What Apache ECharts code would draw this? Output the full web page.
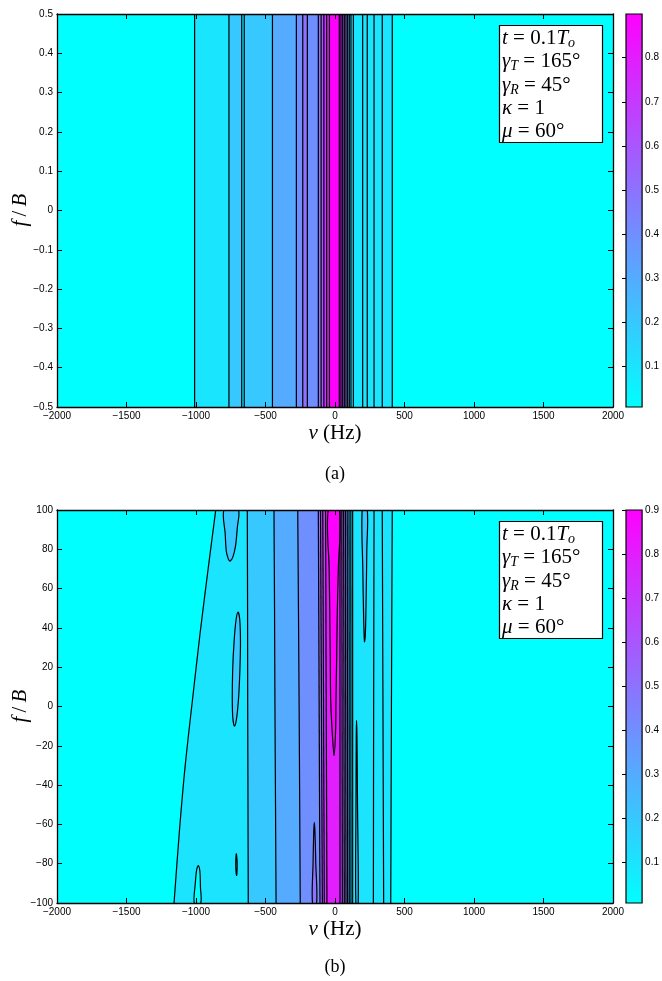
<!DOCTYPE html>
<html><head><meta charset="utf-8">
<script src="https://cdn.jsdelivr.net/npm/echarts@6/dist/echarts.min.js"></script>
<style>html,body{margin:0;padding:0;background:#fff}#c{width:662px;height:981px}</style>
</head><body><div id="c"></div>
<script>
// ---------- data ----------
const xTicks = [-2000, -1500, -1000, -500, 0, 500, 1000, 1500, 2000];
const yTicksA = [-0.5, -0.4, -0.3, -0.2, -0.1, 0, 0.1, 0.2, 0.3, 0.4, 0.5];
const yTicksB = [-100, -80, -60, -40, -20, 0, 20, 40, 60, 80, 100];
const cbTicksA = [0.1, 0.2, 0.3, 0.4, 0.5, 0.6, 0.7, 0.8];
const cbTicksB = [0.1, 0.2, 0.3, 0.4, 0.5, 0.6, 0.7, 0.8, 0.9];
const cbRangeA = [0.008, 0.899];
const cbRangeB = [0.007, 0.9];
const levelStep = 0.1;

// panel (a): vertical contour edges (Hz) and band level index between them
const aEdges = [-1010, -763, -671, -653, -450, -278, -232, -199, -120, -100, -80, -60, -40,
  31, 43, 55, 67, 79, 91, 103, 115, 132, 199, 232, 281, 340, 412];
const aLevels = [0, 1, 2, 1, 2, 3, 4, 5, 4, 5, 6, 7, 8, 9, 8, 7, 6, 5, 4, 3, 2, 1, 1, 1, 1, 1, 1, 0];

// panel (b): contour boundaries, top to bottom, as [Hz, f/B]
const bBoundaries = [
  [[-858, 100], [-911, 71], [-971, 37], [-1026, 3], [-1079, -31], [-1120, -64], [-1158, -100]],
  [[-631, 100], [-629, 50], [-628, 0], [-626, -50], [-624, -100]],
  [[-439, 100], [-435, 50], [-432, 0], [-428, -50], [-424, -100]],
  [[-268, 100], [-263, 50], [-258, 0], [-254, -50], [-250, -100]],
  [[-120, 100], [-108, -100]],
  [[-104, 100], [-91, -100]],
  [[-88, 100], [-77, -100]],
  [[-68, 100], [-58, -100]],
  [[36, 100], [36, -100]],
  [[49, 100], [53, -100]],
  [[62, 100], [67, -100]],
  [[75, 100], [79, -100]],
  [[88, 100], [91, -100]],
  [[101, 100], [103, -100]],
  [[114, 100], [115, -100]],
  [[127, 100], [127, -100]],
  [[281, 100], [278, 0], [276, -100]],
  [[340, 100], [345, 0], [350, -100]],
  [[412, 100], [406, 0], [401, -100]]
];
const bLevels = [0, 1, 2, 3, 4, 5, 6, 7, 8, 7, 6, 5, 4, 3, 2, 1, 1, 1, 1, 0];

// panel (b): closed islands / tongues as outlines [Hz, f/B]
const bIslands = [
  [[-48, 100], [-42, 70], [-38, 50], [-34, 25], [-31, 3], [-20, -13], [-7, -25], [4, -13], [7, 3], [12, 25], [17, 50], [24, 70], [31, 100]],
  [[-798, 100], [-790, 88], [-782, 79], [-767, 75], [-755, 74], [-735, 76], [-715, 82], [-703, 91], [-696, 100]],
  [[-697, 48], [-685, 44], [-680, 33], [-684, 19], [-694, 4], [-708, -6], [-723, -10], [-735, -6], [-739, 4], [-736, 19], [-726, 33], [-712, 44]],
  [[-710, -75], [-705, -78], [-704, -82], [-708, -86], [-713, -83], [-714, -79]],
  [[-1012, -100], [-1005, -90], [-995, -83], [-983, -81], [-972, -84], [-968, -92], [-966, -100]],
  [[-162, -100], [-158, -80], [-153, -64], [-149, -59], [-144, -64], [-138, -80], [-132, -100]],
  [[196, 100], [200, 70], [206, 45], [212, 33], [218, 36], [224, 55], [229, 80], [232, 100]],
  [[150, -100], [151, -50], [153, -15], [155, -7], [158, -15], [162, -50], [167, -100]]
];
const bIslandLevels = [9, 2, 2, 2, 0, 5, 2, 2];

// ---------- helpers ----------
function coolColor(level, range) {
  const v = level === 0 ? range[0] : level * levelStep;
  let t = (v - range[0]) / (range[1] - range[0]);
  t = Math.max(0, Math.min(1, t));
  return 'rgb(' + Math.round(255 * t) + ',' + Math.round(255 * (1 - t)) + ',255)';
}
const minus = '\u2212';
function fmtInt(v) { return v < 0 ? minus + Math.abs(v) : String(v); }
function fmt1(v) { if (Math.abs(v) < 1e-9) return '0'; return (v < 0 ? minus : '') + Math.abs(v).toFixed(1); }

const sans = "'Liberation Sans', Arial, Helvetica, sans-serif";
const serif = "'Liberation Serif', 'DejaVu Serif', serif";
const LW = 1.2;

const X0 = 57, XW = 556;
const panels = [
  { top: 14, yMin: -0.5, yMax: 0.5, yInt: 0.1, yFmt: fmt1, cbRange: cbRangeA, cbTicks: cbTicksA },
  { top: 510, yMin: -100, yMax: 100, yInt: 20, yFmt: fmtInt, cbRange: cbRangeB, cbTicks: cbTicksB }
];
const PH = 393;

const grid = [], xAxis = [], yAxis = [], series = [];
panels.forEach((p, k) => {
  grid.push({ left: X0, top: p.top, width: XW, height: PH });
  grid.push({ left: 626, top: p.top, width: 18, height: PH });
  const gi = 2 * k, ci = 2 * k + 1;
  const axBase = { type: 'value', z: 10, splitLine: { show: false },
    axisLine: { show: true, onZero: false, lineStyle: { color: '#000', width: 1.3 } },
    axisTick: { show: true, inside: true, length: 5, lineStyle: { color: '#000', width: 1 } } };
  xAxis.push(Object.assign({}, axBase, { gridIndex: gi, position: 'bottom', min: -2000, max: 2000, interval: 500,
    axisLabel: { show: true, color: '#000', fontSize: 10, fontFamily: sans, margin: 4, formatter: fmtInt, showMinLabel: true, showMaxLabel: true } }));
  xAxis.push(Object.assign({}, axBase, { gridIndex: gi, position: 'top', min: -2000, max: 2000, interval: 500, axisLabel: { show: false } }));
  xAxis.push({ type: 'value', gridIndex: ci, min: 0, max: 1, show: false });
  yAxis.push(Object.assign({}, axBase, { gridIndex: gi, position: 'left', min: p.yMin, max: p.yMax, interval: p.yInt,
    axisLabel: { show: true, color: '#000', fontSize: 10, fontFamily: sans, margin: 4, formatter: p.yFmt, showMinLabel: true, showMaxLabel: true } }));
  yAxis.push(Object.assign({}, axBase, { gridIndex: gi, position: 'right', min: p.yMin, max: p.yMax, interval: p.yInt, axisLabel: { show: false } }));
  yAxis.push({ type: 'value', gridIndex: ci, position: 'right', min: p.cbRange[0], max: p.cbRange[1], z: 10,
    splitLine: { show: false },
    axisLine: { show: false },
    axisTick: { show: true, inside: true, length: 4, customValues: p.cbTicks, lineStyle: { color: '#000' } },
    axisLabel: { show: true, color: '#000', fontSize: 10, fontFamily: sans, margin: 3, customValues: p.cbTicks, formatter: v => v.toFixed(1) } });
  const xi = 3 * k, yi = 3 * k, cxi = 3 * k + 2, cyi = 3 * k + 2;
  // colorbar
  series.push({ type: 'custom', xAxisIndex: cxi, yAxisIndex: cyi, data: [[0]], silent: true,
    renderItem: (params, api) => {
      const a = api.coord([0, p.cbRange[1]]), b = api.coord([1, p.cbRange[0]]);
      return { type: 'rect', shape: { x: a[0], y: a[1], width: b[0] - a[0], height: b[1] - a[1] },
        style: { fill: { type: 'linear', x: 0, y: 0, x2: 0, y2: 1, colorStops: [{ offset: 0, color: '#ff00ff' }, { offset: 1, color: '#00ffff' }] },
          stroke: '#000', lineWidth: 1.2 } };
    } });
  if (k === 0) {
    const bands = [];
    const ed = [-2000].concat(aEdges, [2000]);
    for (let i = 0; i < aLevels.length; i++) bands.push([ed[i], ed[i + 1], aLevels[i]]);
    series.push({ type: 'custom', xAxisIndex: xi, yAxisIndex: yi, data: bands, clip: true, silent: true,
      renderItem: (params, api) => {
        const a = api.coord([api.value(0), p.yMax]), b = api.coord([api.value(1), p.yMin]);
        return { type: 'rect', shape: { x: a[0], y: a[1], width: b[0] - a[0] + 0.6, height: b[1] - a[1] },
          style: { fill: coolColor(api.value(2), p.cbRange) } };
      } });
    series.push({ type: 'custom', xAxisIndex: xi, yAxisIndex: yi, data: aEdges.map(v => [v]), clip: true, silent: true,
      renderItem: (params, api) => {
        const a = api.coord([api.value(0), p.yMax]), b = api.coord([api.value(0), p.yMin]);
        return { type: 'line', shape: { x1: a[0], y1: a[1], x2: b[0], y2: b[1] }, style: { stroke: '#000', lineWidth: LW } };
      } });
  } else {
    const left = [[-2000, 100], [-2000, -100]], right = [[2000, 100], [2000, -100]];
    const bnds = [left].concat(bBoundaries, [right]);
    const polys = [];
    for (let i = 0; i < bLevels.length; i++) {
      polys.push(bnds[i].concat(bnds[i + 1].slice().reverse()));
    }
    series.push({ type: 'custom', xAxisIndex: xi, yAxisIndex: yi, data: bLevels.map((l, i) => [i, l]), clip: true, silent: true,
      renderItem: (params, api) => {
        const pts = polys[params.dataIndex].map(q => api.coord(q));
        const c = coolColor(bLevels[params.dataIndex], p.cbRange);
        return { type: 'polygon', shape: { points: pts }, style: { fill: c, stroke: c, lineWidth: 0.6 } };
      } });
    series.push({ type: 'custom', xAxisIndex: xi, yAxisIndex: yi, data: bIslandLevels.map((l, i) => [i, l]), clip: true, silent: true,
      renderItem: (params, api) => {
        const pts = bIslands[params.dataIndex].map(q => api.coord(q));
        return { type: 'polygon', shape: { points: pts, smooth: 0.3 }, style: { fill: coolColor(bIslandLevels[params.dataIndex], p.cbRange), stroke: '#000', lineWidth: LW } };
      } });
    series.push({ type: 'custom', xAxisIndex: xi, yAxisIndex: yi, data: bBoundaries.map((b, i) => [i]), clip: true, silent: true,
      renderItem: (params, api) => {
        const pts = bBoundaries[params.dataIndex].map(q => api.coord(q));
        return { type: 'polyline', shape: { points: pts, smooth: 0.3 }, style: { stroke: '#000', fill: null, lineWidth: LW } };
      } });
  }
});

// ---------- text ----------
const FS = 21;
const rich = {
  i: { fontFamily: serif, fontStyle: 'italic', fontSize: FS, fill: '#000', color: '#000' },
  n: { fontFamily: serif, fontSize: FS, fill: '#000', color: '#000' },
  s: { fontFamily: serif, fontStyle: 'italic', fontSize: 14, fill: '#000', color: '#000', padding: [10, 0, 0, 0] }
};
const boxLines = [
  '{i|t}{n| = 0.1}{i|T}{s|o}',
  '{i|\u03b3}{s|T}{n| = 165\u00b0}',
  '{i|\u03b3}{s|R}{n| = 45\u00b0}',
  '{i|\u03ba}{n| = 1}',
  '{i|\u03bc}{n| = 60\u00b0}'
];
const graphics = [];
panels.forEach((p, k) => {
  const off = p.top - 14;
  graphics.push({ type: 'rect', shape: { x: 499.5, y: 25.5 + off, width: 103, height: 117 }, style: { fill: '#fff', stroke: '#000', lineWidth: 1.2 }, z: 100 });
  boxLines.forEach((t, j) => {
    graphics.push({ type: 'text', x: 502, y: 38.5 + off + j * 23.3, z: 101,
      style: { text: t, rich: rich, textVerticalAlign: 'middle', textAlign: 'left', fill: '#000', font: FS + 'px ' + serif } });
  });
  graphics.push({ type: 'text', x: 335, y: 433 + off, z: 101,
    style: { text: '{i|v}{n| (Hz)}', rich: rich, textAlign: 'center', textVerticalAlign: 'middle' } });
  graphics.push({ type: 'text', x: 20, y: 210 + off, rotation: Math.PI / 2, z: 101,
    style: { text: '{i|f}{n|\u2009/\u2009}{i|B}', rich: rich, textAlign: 'center', textVerticalAlign: 'middle' } });
  graphics.push({ type: 'text', x: 335, y: (k === 0 ? 474 : 967), z: 101,
    style: { text: k === 0 ? '(a)' : '(b)', font: '18px ' + serif, fill: '#000', textAlign: 'center', textVerticalAlign: 'middle' } });
});

const chart = echarts.init(document.getElementById('c'), null, { renderer: 'canvas' });
chart.setOption({ animation: false, backgroundColor: '#fff', grid, xAxis, yAxis, series, graphic: { elements: graphics } });
</script></body></html>
